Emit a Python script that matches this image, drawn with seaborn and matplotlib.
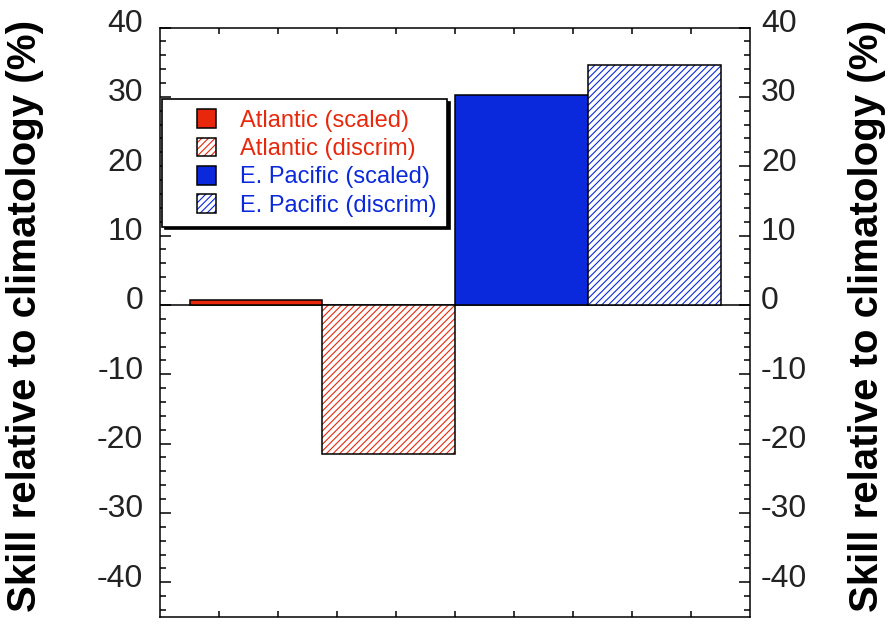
import numpy as np
import matplotlib
matplotlib.use("Agg")
import matplotlib.pyplot as plt
import matplotlib.patches as mpatches
from matplotlib.legend_handler import HandlerPatch
from matplotlib.ticker import MultipleLocator, FixedLocator
from matplotlib.transforms import ScaledTranslation
import seaborn as sns


# values
LABELS = ["Atlantic (scaled)", "Atlantic (discrim)",
          "E. Pacific (scaled)", "E. Pacific (discrim)"]
SKILL = [0.7, -21.5, 30.3, 34.6]
HATCHED = [False, True, False, True]
RED = "#E8280C"
BLUE = "#0A28DC"
COLORS = [RED, RED, BLUE, BLUE]
YLABEL = "Skill relative to climatology (%)"
YTICKS = [-40, -30, -20, -10, 0, 10, 20, 30, 40]

sns.set_theme(style="ticks")
plt.rcParams["font.family"] = ["Liberation Sans", "DejaVu Sans"]
plt.rcParams["axes.unicode_minus"] = False
plt.rcParams["hatch.linewidth"] = 0.8

fig = plt.figure(figsize=(8.9, 6.26), dpi=100)
ax = fig.add_axes([160 / 890, 9 / 626, 590 / 890, 589.5 / 626])

sns.barplot(x=LABELS, y=SKILL, hue=LABELS, palette=COLORS, order=LABELS,
            hue_order=LABELS, width=1.0, errorbar=None, legend=False,
            edgecolor="black", linewidth=1.1, saturation=1, ax=ax)

bars = sorted(ax.patches, key=lambda p: p.get_x())
for bar, hatched, col in zip(bars, HATCHED, COLORS):
    bar.set_zorder(2)
    if hatched:
        bar.set_facecolor("white")
        bar.set_edgecolor(col)
        bar.set_hatch("/////")
        bar.set_linewidth(0)
        ax.add_patch(mpatches.Rectangle(bar.get_xy(), bar.get_width(), bar.get_height(),
                                        fill=False, edgecolor="black", lw=1.1, zorder=3))

ax.axhline(0, color="black", lw=1.1, zorder=1)

# x grid of 10 units, bars span 2.25 units each starting at 0.5
unit = 1 / 2.25
x0 = -0.5 - 0.5 * unit
ax.set_xlim(x0, x0 + 10 * unit)
ax.xaxis.set_major_locator(FixedLocator([x0 + k * unit for k in range(1, 10)]))
ax.set_xticklabels([])
ax.set_xlabel("")

ax.set_ylim(-45, 40)
ax.yaxis.set_major_locator(FixedLocator(YTICKS))
ax.yaxis.set_minor_locator(MultipleLocator(2))
ax.set_yticklabels([str(t) for t in YTICKS])

# twin for the right-hand labels (made before tick_params, twinx resets ticks)
ax2 = ax.twinx()
ax2.set_ylim(ax.get_ylim())
ax2.yaxis.set_major_locator(FixedLocator(YTICKS))
ax2.set_yticklabels([str(t) for t in YTICKS])
ax2.tick_params(axis="y", which="both", length=0, labelsize=23, pad=8,
                labelcolor="#222222")
for sp in ax2.spines.values():
    sp.set_visible(False)

for sp in ax.spines.values():
    sp.set_visible(True)
    sp.set_linewidth(1.1)
    sp.set_color("black")

ax.tick_params(axis="x", which="major", direction="in", length=4.5, width=1.1,
               top=True, bottom=True, color="black")
ax.tick_params(axis="y", which="major", direction="in", length=8, width=1.1,
               left=True, right=True, labelleft=True, labelright=False,
               labelsize=23, pad=12, color="black", labelcolor="#222222")
ax.tick_params(axis="y", which="minor", direction="in", length=4.5, width=1.1,
               left=True, right=True, color="black")

# labels sit a bit above their ticks in the original
shift = ScaledTranslation(0, 7 / 100, fig.dpi_scale_trans)
for a in (ax, ax2):
    for t in a.yaxis.get_major_ticks():
        t.label1.set_transform(t.label1.get_transform() + shift)
        t.label2.set_transform(t.label2.get_transform() + shift)

ax.set_ylabel(YLABEL, fontsize=29, fontweight="bold", color="black")
ax.yaxis.set_label_coords(-0.197, 0.51)
ax2.set_ylabel(YLABEL, fontsize=29, fontweight="bold", color="black", rotation=90)
ax2.yaxis.set_label_coords(1.166, 0.51)


def small_square(legend, orig_handle, xdescent, ydescent, width, height, fontsize):
    return mpatches.Rectangle((-xdescent + width - height, -ydescent), height, height)


handles = []
for hatched, col in zip(HATCHED, COLORS):
    if hatched:
        h = (mpatches.Patch(facecolor="white", edgecolor=col, hatch="/////", lw=0),
             mpatches.Patch(fill=False, edgecolor="black", lw=1.1))
    else:
        h = mpatches.Patch(facecolor=col, edgecolor="black", lw=1.1)
    handles.append(h)

leg = ax.legend(handles, LABELS, loc="upper left", bbox_to_anchor=(0.003, 0.878),
                borderaxespad=0, fontsize=17, labelcolor=COLORS,
                handlelength=1.86, handleheight=0.85, handletextpad=1.05,
                labelspacing=0.24, borderpad=0.42, fancybox=False,
                framealpha=1, edgecolor="black",
                shadow={"color": "black", "alpha": 1},
                handler_map={mpatches.Patch: HandlerPatch(patch_func=small_square)})
leg.get_frame().set_linewidth(1.2)
leg.set_zorder(5)

fig.savefig("out.png", dpi=100)
